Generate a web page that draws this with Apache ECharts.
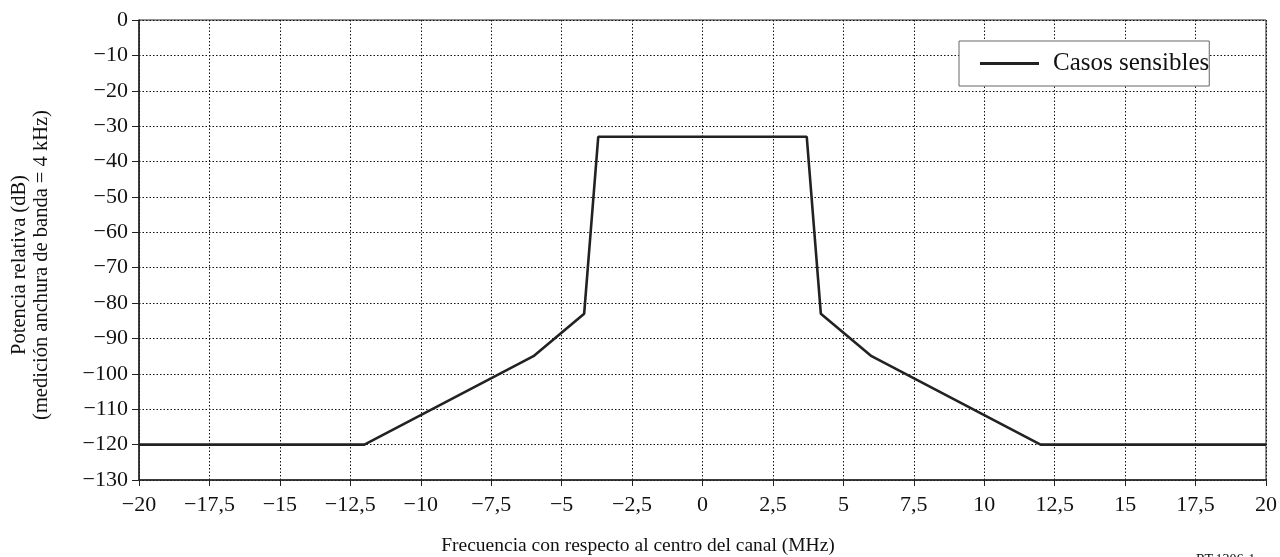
<!DOCTYPE html>
<html>
<head>
<meta charset="utf-8">
<script src="https://cdn.jsdelivr.net/npm/echarts@6/dist/echarts.min.js"></script>
<style>html,body{margin:0;padding:0;background:#fff;}#c{width:1280px;height:557px;}</style>
</head>
<body>
<div id="c"></div>
<script>
const seriesName = 'Casos sensibles';
const freqMHz = [-20, -12, -6, -4.2, -3.7, 3.7, 4.2, 6, 12, 20];
const powerDb = [-120, -120, -95, -83, -33, -33, -83, -95, -120, -120];
const xTitle = 'Frecuencia con respecto al centro del canal (MHz)';
const yTitle1 = 'Potencia relativa (dB)';
const yTitle2 = '(medición anchura de banda = 4 kHz)';
const figRef = 'RT.1306-1';

const FONT = '"Liberation Serif", "Times New Roman", serif';
const fmt = v => String(v).replace('-', '\u2212').replace('.', ',');

const chart = echarts.init(document.getElementById('c'), null, {renderer: 'canvas'});
chart.setOption({
  animation: false,
  backgroundColor: '#fff',
  grid: {left: 139, right: 12, top: 20, bottom: 77, show: true, borderColor: '#222', borderWidth: 1, containLabel: false},
  xAxis: {
    type: 'value', min: -20, max: 20, interval: 2.5,
    axisLine: {onZero: false, lineStyle: {color: '#222', width: 1.5}},
    axisTick: {show: true, length: 6, inside: false, lineStyle: {color: '#222'}},
    axisLabel: {formatter: fmt, color: '#111', fontFamily: FONT, fontSize: 22, margin: 14},
    splitLine: {show: true, lineStyle: {type: [1.5, 2], color: '#111', width: 1}}
  },
  yAxis: {
    type: 'value', min: -130, max: 0, interval: 10,
    axisLine: {show: true, onZero: false, lineStyle: {color: '#222', width: 1.5}},
    axisTick: {show: true, length: 7, inside: false, lineStyle: {color: '#222'}},
    axisLabel: {formatter: fmt, color: '#111', fontFamily: FONT, fontSize: 22, margin: 11},
    splitLine: {show: true, lineStyle: {type: [1.5, 2], color: '#111', width: 1}}
  },
  legend: {
    left: 959, top: 41,
    padding: [10, 0, 10, 21],
    backgroundColor: '#fff',
    borderColor: '#666', borderWidth: 1, borderRadius: 0,
    icon: 'rect', itemWidth: 59, itemHeight: 3,
    textStyle: {fontFamily: FONT, fontSize: 25, color: '#111', padding: [0, 0, 0, 9]},
    data: [seriesName]
  },
  series: [{
    name: seriesName, type: 'line',
    data: freqMHz.map((x, i) => [x, powerDb[i]]),
    showSymbol: false, symbol: 'none',
    lineStyle: {color: '#222', width: 2.6},
    itemStyle: {color: '#222'}
  }],
  graphic: [
    {type: 'text', x: 638, y: 546, style: {text: xTitle, font: '19.5px ' + FONT, fill: '#111', align: 'center', verticalAlign: 'middle'}},
    {type: 'text', x: 31, y: 265, rotation: Math.PI / 2, style: {text: yTitle1 + '\n' + yTitle2, font: '20.5px ' + FONT, fill: '#111', align: 'center', verticalAlign: 'middle', lineHeight: 22}},
    {type: 'text', x: 1196, y: 553, style: {text: figRef, font: '14px ' + FONT, fill: '#111', align: 'left', verticalAlign: 'top'}}
  ]
});
</script>
</body>
</html>
